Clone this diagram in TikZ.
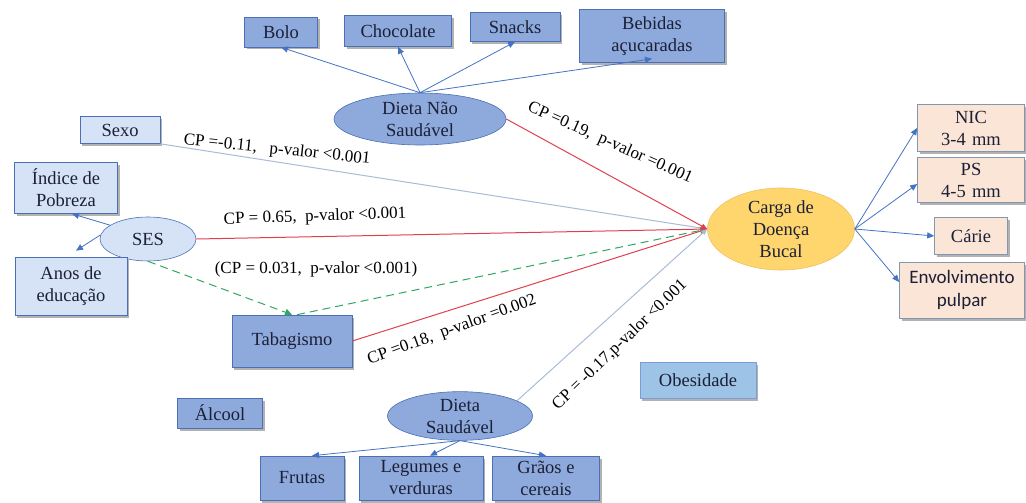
\documentclass[tikz,border=0pt]{standalone}
\usepackage{fontspec}
\setmainfont{Liberation Serif}
\newfontfamily\calib{Carlito}
\newfontfamily\serifbox{Liberation Serif}
\usetikzlibrary{shapes.geometric,arrows.meta,shadows}

\definecolor{midblue}{HTML}{8EA9DB}
\definecolor{lightblue}{HTML}{D6E2F5}
\definecolor{edgeblue}{HTML}{4A6FB5}
\definecolor{obesblue}{HTML}{9DC3E6}
\definecolor{gold}{HTML}{FFD66E}
\definecolor{goldedge}{HTML}{F0C060}
\definecolor{peach}{HTML}{FBE5D6}
\definecolor{peachedge}{HTML}{8497B0}
\definecolor{arrowblue}{HTML}{4472C4}
\definecolor{cpred}{HTML}{E0404E}
\definecolor{cpgreen}{HTML}{2EA860}
\definecolor{paleline}{HTML}{A9BCD6}
\definecolor{ink}{HTML}{1B2036}

\tikzset{
  boxtext/.style={font=\serifbox\fontsize{18.5}{22}\selectfont, text=ink, align=center},
  shadowed/.style={drop shadow={shadow xshift=2pt, shadow yshift=-2.5pt, opacity=0.3, fill=black}},
  darkbox/.style={boxtext, rectangle, fill=midblue, draw=edgeblue, line width=0.6pt, inner sep=0pt, shadowed},
  lightbox/.style={boxtext, rectangle, fill=lightblue, draw=edgeblue, line width=0.6pt, inner sep=0pt, shadowed},
  outbox/.style={boxtext, rectangle, fill=peach, draw=peachedge, line width=0.6pt, inner sep=0pt, shadowed},
  oval/.style={boxtext, ellipse, inner sep=0pt, line width=0.6pt},
  link/.style={draw=arrowblue, line width=0.8pt, -{Triangle[length=7pt,width=6pt]}},
  redpath/.style={draw=cpred, line width=1pt, -{Triangle[length=6pt,width=5pt]}},
  palepath/.style={draw=paleline, line width=1pt, -{Triangle[length=6pt,width=5pt]}},
  greenpath/.style={draw=cpgreen, line width=1pt, dash pattern=on 8pt off 5pt, -{Triangle[length=7pt,width=7pt]}},
  cplabel/.style={font=\serifbox\fontsize{17}{20}\selectfont, text=black, inner sep=0pt}
}

\begin{document}
\begin{tikzpicture}[x=1pt,y=-1pt]
\useasboundingbox (0,0) rectangle (1026,503);

% unhealthy diet and its items
\node[darkbox, minimum width=73, minimum height=30] (bolo) at (281,32) {Bolo};
\node[darkbox, minimum width=107, minimum height=31] (choc) at (398,31) {Chocolate};
\node[darkbox, minimum width=90, minimum height=29] (snacks) at (515,27) {Snacks};
\node[darkbox, minimum width=145, minimum height=53] (bebidas) at (652,36) {Bebidas\\açucaradas};
\node[oval, fill=midblue, draw=edgeblue, minimum width=172, minimum height=52] (dns) at (420,119) {Dieta Não\\Saudável};

% left-hand factors
\node[lightbox, minimum width=80, minimum height=27] (sexo) at (120,130) {Sexo};
\node[lightbox, minimum width=103, minimum height=51] (indice) at (66,188) {Índice de\\Pobreza};
\node[oval, fill=lightblue, draw=edgeblue, minimum width=96, minimum height=44] (ses) at (148,239) {SES};
\node[lightbox, minimum width=112, minimum height=58] (anos) at (71,286) {Anos de\\educação};
\node[darkbox, minimum width=120, minimum height=52] (tabag) at (292,341) {Tabagismo};
\node[darkbox, minimum width=85, minimum height=30] (alcool) at (220,413) {Álcool};

% healthy diet and its items
\node[oval, fill=midblue, draw=edgeblue, minimum width=145, minimum height=42] (ds) at (460,416) {Dieta\\Saudável};
\node[darkbox, minimum width=84, minimum height=44] (frutas) at (302,478) {Frutas};
\node[darkbox, minimum width=124, minimum height=44] (legumes) at (421,478) {Legumes e\\verduras};
\node[darkbox, minimum width=107, minimum height=44] (graos) at (546,478) {Grãos e\\cereais};
\node[boxtext, rectangle, fill=obesblue, draw=arrowblue!70, line width=0.6pt, inner sep=0pt, shadowed, minimum width=116, minimum height=36] (obes) at (698,380) {Obesidade};

% outcome and its components
\node[oval, fill=gold, draw=goldedge, minimum width=147, minimum height=82] (carga) at (781,229) {Carga de\\Doença\\Bucal};
\node[outbox, minimum width=107, minimum height=47] (nic) at (971,128) {NIC\\3-4\,\,mm};
\node[outbox, minimum width=107, minimum height=45] (ps) at (971,180) {PS\\4-5\,\,mm};
\node[outbox, minimum width=73, minimum height=37] (carie) at (971,236) {Cárie};
\node[outbox, minimum width=125, minimum height=56, font=\calib\fontsize{19}{23}\selectfont] (envolv) at (962,290) {Envolvimento\\pulpar};

% diet items
\draw[link] (dns.north) -- (bolo.south);
\draw[link] (dns.north) -- (choc.south);
\draw[link] (dns.north) -- (snacks.south);
\draw[link] (dns.north) -- ([yshift=4pt]bebidas.south);
\draw[link] (ds.south) -- ([xshift=10pt]frutas.north);
\draw[link] (ds.south) -- ([xshift=9pt]legumes.north);
\draw[link] (ds.south) -- (graos.north);

% SES indicators
\draw[link] (ses.160) -- ([xshift=6pt]indice.south);
\draw[link] (ses.175) -- ([xshift=5pt,yshift=6pt]anos.north);

% outcome components
\draw[link] (carga.east) -- (nic.west);
\draw[link] (carga.east) -- ([yshift=-4pt]ps.west);
\draw[link] (carga.east) -- (carie.west);
\draw[link] (carga.east) -- ([yshift=8pt]envolv.west);

% paths to the outcome
\draw[palepath] (sexo.south east) -- (carga.west);
\draw[redpath] (ses.east) -- (carga.west);
\draw[greenpath] (ses.south) -- (tabag.north);
\draw[greenpath] ([xshift=5pt]tabag.north) -- (carga.west);
\draw[redpath] (tabag.east) -- (carga.west);
\draw[redpath] (dns.east) -- (carga.west);
\draw[palepath] (ds.15) -- (carga.west);

% path coefficients
\node[cplabel, rotate=-6] (l1) at (277,150) {CP =-0.11,\ \ \ p-valor <0.001};
\node[cplabel, rotate=2] (l2) at (315,217) {CP = 0.65,\ \ p-valor <0.001};
\node[cplabel] (l3) at (316,269) {(CP = 0.031,\ \ p-valor <0.001)};
\node[cplabel, rotate=-24] (l4) at (610,143) {CP =0.19,\ \ p-valor =0.001};
\node[cplabel, rotate=20] (l5) at (452,330) {CP =0.18,\ \ p-valor =0.002};
\node[cplabel, rotate=44] (l6) at (620,345) {CP = -0.17,p-valor <0.001};
\end{tikzpicture}
\end{document}
